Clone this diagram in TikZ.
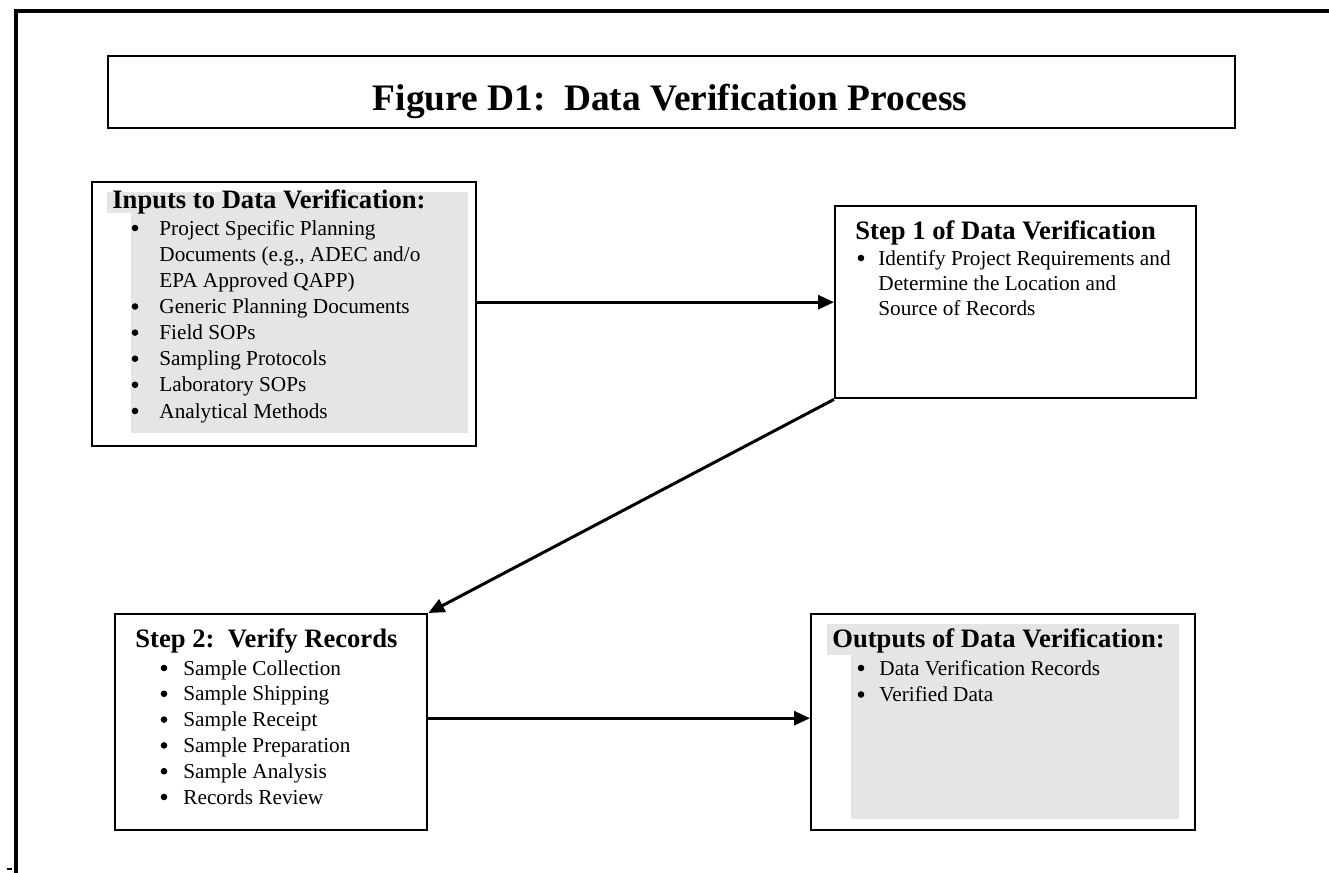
\documentclass[tikz,border=0pt]{standalone}
\usepackage{fontspec}
\setmainfont{Liberation Serif}
\usetikzlibrary{arrows.meta,calc}
\begin{document}
\begin{tikzpicture}[x=0.5pt,y=-0.5pt,
  box/.style={draw,line width=1.2pt,inner sep=0pt,anchor=north west},
  conn/.style={line width=1.5pt,-{Triangle[length=8pt,width=7pt]}},
  body/.style={anchor=base west,inner sep=0pt,font=\fontsize{10.63pt}{13pt}\selectfont},
  head/.style={anchor=base west,inner sep=0pt,font=\fontsize{13.3pt}{16pt}\selectfont\bfseries},
  dot/.style={circle,fill=black,draw=none,inner sep=0pt,minimum size=3.3pt},
  shade/.style={fill=black!10,draw=none}]
\useasboundingbox (0,0) rectangle (1329,873);
% page frame
\draw[line width=2pt] (16,873) -- (16,11) -- (1329,11);
\draw[line width=1pt] (7,869) -- (12,869);
% title
\node[box,minimum width=563.5pt,minimum height=36pt] (title) at (107,55) {};
\node[anchor=base,inner sep=0pt,font=\fontsize{18.7pt}{22pt}\selectfont\bfseries] (titletext) at (670,110) {Figure D1:\ \ Data Verification Process};
% shaded areas
\fill[shade] (107,192) rectangle (468,213);
\fill[shade] (131,213) rectangle (468,433);
\fill[shade] (827,624) rectangle (1179,655);
\fill[shade] (851,655) rectangle (1179,819);
% boxes
\node[box,minimum width=192pt,minimum height=132pt] (inputs) at (91,181) {};
\node[box,minimum width=180.5pt,minimum height=96pt] (step1) at (834,205) {};
\node[box,minimum width=156pt,minimum height=108pt] (step2) at (114,613) {};
\node[box,minimum width=192pt,minimum height=108pt] (outputs) at (810,613) {};
% inputs text
\node[head] (inhead) at (112,208) {Inputs to Data Verification:};
\node[dot] (inb0) at (135,228) {};
\node[body] (inl0) at (159,235) {Project Specific Planning};
\node[body] (inl1) at (159,261.3) {Documents (e.g., ADEC and/o};
\node[body] (inl2) at (159,287.4) {EPA Approved QAPP)};
\node[dot] (inb3) at (135,306.5) {};
\node[body] (inl3) at (159,313.5) {Generic Planning Documents};
\node[dot] (inb4) at (135,332.6) {};
\node[body] (inl4) at (159,339.6) {Field SOPs};
\node[dot] (inb5) at (135,358.7) {};
\node[body] (inl5) at (159,365.7) {Sampling Protocols};
\node[dot] (inb6) at (135,384.8) {};
\node[body] (inl6) at (159,391.8) {Laboratory SOPs};
\node[dot] (inb7) at (135,411) {};
\node[body] (inl7) at (159,418) {Analytical Methods};
% step 1 text
\node[head] (s1head) at (855,239) {Step 1 of Data Verification};
\node[dot] (s1b) at (861,258) {};
\node[body] (s1l0) at (878,265) {Identify Project Requirements and};
\node[body] (s1l1) at (878,290) {Determine the Location and};
\node[body] (s1l2) at (878,315) {Source of Records};
% step 2 text
\node[head] (s2head) at (135,647) {Step 2:\ \ Verify Records};
\foreach \t [count=\i from 0] in {Sample Collection,Sample Shipping,Sample Receipt,Sample Preparation,Sample Analysis,Records Review}{
  \node[dot] (s2b\i) at (164,668+25.8*\i) {};
  \node[body] (s2l\i) at (183,675+25.8*\i) {\t};
}
% outputs text
\node[head] (outhead) at (832,647) {Outputs of Data Verification:};
\foreach \t [count=\i from 0] in {Data Verification Records,Verified Data}{
  \node[dot] (ob\i) at (861,668+26.5*\i) {};
  \node[body] (ol\i) at (879,675+26.5*\i) {\t};
}
% connectors
\draw[conn] (step1.west -| inputs.east) -- (step1.west);
\draw[conn] (step1.south west) -- (step2.north east);
\coordinate (a3s) at ($(step2.east)+(0,-4)$);
\draw[conn] (a3s) -- (a3s -| outputs.west);
\end{tikzpicture}
\end{document}
